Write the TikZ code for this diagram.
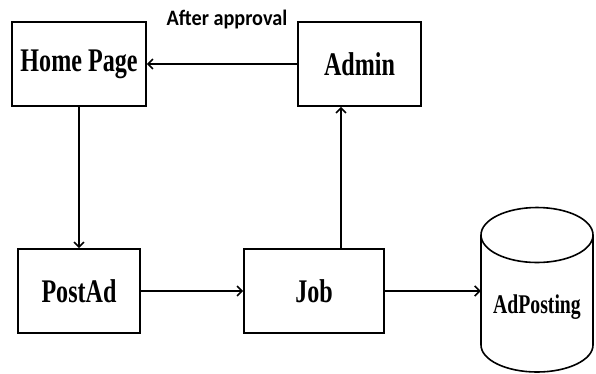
\documentclass[tikz,border=0pt]{standalone}
\usepackage{fontspec}
\usetikzlibrary{arrows.meta}
\newfontfamily\boxfont[FakeStretch=0.73]{Liberation Serif}
\newfontfamily\labfont[FakeStretch=0.92]{Carlito}
\begin{document}
\begin{tikzpicture}[x=1pt,y=-1pt,
  box/.style={draw,line width=1.6pt,minimum height=84pt,inner sep=0pt,font=\boxfont\bfseries\fontsize{33}{36}\selectfont},
  arr/.style={line width=1.6pt,-{Straight Barb[length=5pt,width=10pt,line width=1.6pt]}},
  cyl/.style={line width=1.6pt}]
\useasboundingbox (0,0) rectangle (596,373);
\node[box,minimum width=134pt] (home) at (79,64) {Home Page};
\node[box,minimum width=123pt] (admin) at (359.5,64) {Admin};
\node[box,minimum width=122pt] (postad) at (79,291) {PostAd};
\node[box,minimum width=140pt] (job) at (314,291) {Job};
\node[minimum width=112pt,minimum height=166pt,inner sep=0pt] (db) at (537,290) {};
\draw[cyl] (481,235) -- (481,345) arc[start angle=180,end angle=0,x radius=56,y radius=27] -- (593,235);
\draw[cyl] (537,235) ellipse[x radius=56,y radius=27.5];
\node[font=\boxfont\bfseries\fontsize{27}{30}\selectfont] (dbtext) at (537,307) {AdPosting};
\node[font=\labfont\bfseries\fontsize{22}{24}\selectfont] (lab) at (227,20) {After approval};
\coordinate (upx) at (341,0);
\draw[arr] (admin) -- (home);
\draw[arr] (home) -- (postad);
\draw[arr] (postad) -- (job);
\draw[arr] (job.north -| upx) -- (admin.south -| upx);
\draw[arr] (job.east) -- (job.east -| db.west);
\end{tikzpicture}
\end{document}
